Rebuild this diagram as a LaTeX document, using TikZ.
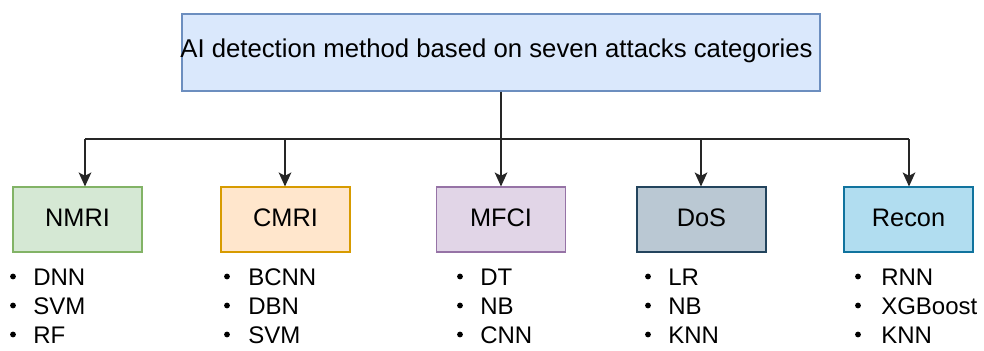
\documentclass[tikz,border=0pt]{standalone}
\usepackage{fontspec}
\setmainfont{Liberation Sans}
\usetikzlibrary{arrows.meta}

\definecolor{topfill}{HTML}{DAE8FC}\definecolor{topline}{HTML}{6C8EBF}
\definecolor{grfill}{HTML}{D5E8D4}\definecolor{grline}{HTML}{82B366}
\definecolor{orfill}{HTML}{FFE6CC}\definecolor{orline}{HTML}{D79B00}
\definecolor{pufill}{HTML}{E1D5E7}\definecolor{puline}{HTML}{9673A6}
\definecolor{slfill}{HTML}{BAC8D3}\definecolor{slline}{HTML}{23445D}
\definecolor{blfill}{HTML}{B1DDF0}\definecolor{blline}{HTML}{10739E}

\tikzset{
  rootbox/.style={draw=topline, fill=topfill, line width=0.8pt, minimum width=478.5pt, minimum height=57.75pt, inner sep=0pt},
  catbox/.style={draw, line width=0.8pt, minimum width=96.75pt, minimum height=48.75pt, inner sep=0pt},
  caption/.style={anchor=base, inner sep=0pt, font=\fontsize{19pt}{22pt}\selectfont},
  item/.style={anchor=base west, inner sep=0pt, font=\fontsize{18pt}{21pt}\selectfont},
  link/.style={line width=1.1pt, draw=black!85},
  arrowlink/.style={link, -{Stealth[length=10.5pt, width=9.5pt, inset=2.5pt]}},
  dot/.style={fill=black, draw=none}
}

\begin{document}
\begin{tikzpicture}[x=0.75pt, y=-0.75pt]
  \useasboundingbox (0,0) rectangle (984,350);

  % root box
  \node[rootbox] (root) at (501,52.5) {};
  \node[anchor=base, inner sep=0pt, font=\fontsize{19.3pt}{22pt}\selectfont] (rootlabel) at (496.5,57) {AI detection method based on seven attacks categories};

  % category boxes
  \node[catbox, draw=grline, fill=grfill] (nmri)  at (77.5,219.5) {};
  \node[catbox, draw=orline, fill=orfill] (cmri)  at (285.5,219.5) {};
  \node[catbox, draw=puline, fill=pufill] (mfci)  at (501,219.5) {};
  \node[catbox, draw=slline, fill=slfill] (dos)   at (701.5,219.5) {};
  \node[catbox, draw=blline, fill=blfill] (recon) at (908.5,219.5) {};

  \node[caption] (nmriT)  at (77.5,226)  {NMRI};
  \node[caption] (cmriT)  at (285.5,226) {CMRI};
  \node[caption] (mfciT)  at (501,226)   {MFCI};
  \node[caption] (dosT)   at (701.5,226) {DoS};
  \node[caption] (reconT) at (908.5,226) {Recon};

  % tree connectors
  \coordinate (j1) at (85,139);
  \coordinate (j2) at (285,139);
  \coordinate (j4) at (701,139);
  \coordinate (j5) at (909,139);
  \draw[link] (j1) -- (j5);
  \draw[arrowlink] (root.south) -- (mfci.north);
  \draw[arrowlink] (j1) -- (j1 |- nmri.north);
  \draw[arrowlink] (j2) -- (j2 |- cmri.north);
  \draw[arrowlink] (j4) -- (j4 |- dos.north);
  \draw[arrowlink] (j5) -- (j5 |- recon.north);

  % method lists under each category
  \foreach \bx/\tx/\name/\a/\b/\c in {
      13/33/n/DNN/SVM/RF,
      227/248/c/BCNN/DBN/SVM,
      460/480/m/DT/NB/CNN,
      648/668/d/LR/NB/KNN,
      858/881/r/RNN/XGBoost/KNN} {
    \fill[dot] (\bx,276.5) circle (2.9);
    \fill[dot] (\bx,305.5) circle (2.9);
    \fill[dot] (\bx,334.5) circle (2.9);
    \node[item] (\name1) at (\tx,285) {\a};
    \node[item] (\name2) at (\tx,314) {\b};
    \node[item] (\name3) at (\tx,343) {\c};
  }
\end{tikzpicture}
\end{document}
